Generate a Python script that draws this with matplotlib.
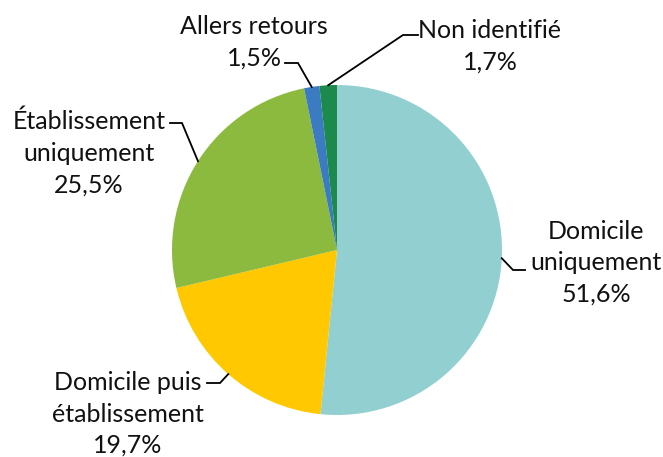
import numpy as np
import matplotlib
matplotlib.use("Agg")
import matplotlib.pyplot as plt

# Data
categories = ["Domicile\nuniquement", "Domicile puis\nétablissement", "Établissement\nuniquement",
              "Allers retours", "Non identifié"]
shares = [51.6, 19.7, 25.5, 1.5, 1.7]
colors = ["#92CFD1", "#FFC800", "#8CBA3F", "#3A7BC1", "#1C8A4C"]

# Label layout (pixel coords): text centre, elbow point, end of horizontal segment
label_pos = [(596, 263), (128, 414), (89, 153), (254, 42), (490, 46)]
elbows = [(513, 270), (220, 383), (182, 123), (298, 63), (403, 35)]
ends = [(525, 270), (207, 383), (170, 123), (285, 63), (418, 35)]

plt.rcParams['font.family'] = ['Lato', 'DejaVu Sans']

fig = plt.figure(figsize=(6.63, 4.57), dpi=100)
ax = fig.add_axes([0, 0, 1, 1])

cx, cy, r = 337, 250, 165
wedges, _ = ax.pie(shares, colors=colors, startangle=-90, counterclock=True,
                   center=(cx, cy), radius=r, frame=True,
                   wedgeprops=dict(linewidth=0))

ax.set_xlim(0, 663)
ax.set_ylim(457, 0)
ax.set_aspect('equal')
ax.axis('off')

for w, cat, val, (tx, ty), el, en in zip(wedges, categories, shares, label_pos, elbows, ends):
    mid = np.deg2rad((w.theta1 + w.theta2) / 2)
    px, py = cx + r * np.cos(mid), cy + r * np.sin(mid)
    ax.plot([px, el[0], en[0]], [py, el[1], en[1]], color="black", lw=1.3,
            solid_joinstyle='miter')
    txt = f"{cat}\n{val:.1f}%".replace(".", ",")
    ax.text(tx, ty, txt, ha="center", va="center", fontsize=18, linespacing=1.45,
            color="#111111")

fig.savefig("out.png", dpi=100)
